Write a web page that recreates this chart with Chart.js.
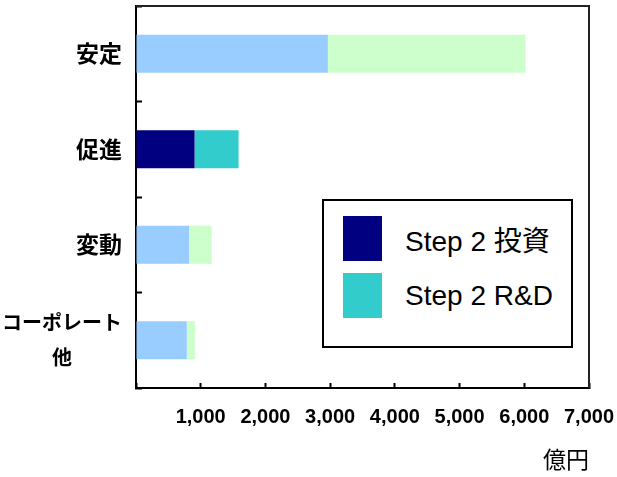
<!DOCTYPE html>
<html lang="ja">
<head>
<meta charset="UTF-8">
<title>Step 2</title>
<style>
  body { margin: 0; background: #fff; }
  .wrap { position: relative; width: 617px; height: 477px; }
  #legendBox {
    position: absolute; left: 322px; top: 199px; width: 247px; height: 145px;
    border: 2px solid #000; background: #fff;
    font-family: "Liberation Sans", Arial, "Noto Sans CJK JP", sans-serif; font-size: 28px; color: #000;
  }
  .item { position: absolute; left: 19px; height: 45px; display: flex; align-items: center; white-space: nowrap; }
  .item span.sw { width: 39px; height: 45px; margin-right: 23px; }
</style>
</head>
<body>
<div class="wrap">
  <canvas id="c" width="617" height="477"></canvas>
  <div id="legendBox">
    <div class="item" style="top:15px"><span class="sw" style="background:#000080"></span>Step 2 投資</div>
    <div class="item" style="top:72px"><span class="sw" style="background:#33CCCC"></span>Step 2 R&amp;D</div>
  </div>
</div>

<script src="https://cdn.jsdelivr.net/npm/chart.js"></script>
<script>
// 数値 (億円)
const categories = ['安定', '促進', '変動', 'コーポレート他'];
const investValues = [2965, 905, 820, 785];   // Step 2 投資
const rdValues = [3055, 680, 350, 125];        // Step 2 R&D
const xTicks = [1000, 2000, 3000, 4000, 5000, 6000, 7000];

// 促進だけ濃い色
const investColors = ['#99CCFF', '#000080', '#99CCFF', '#99CCFF'];
const rdColors = ['#CCFFCC', '#33CCCC', '#CCFFCC', '#CCFFCC'];

// 枠線 (上・右)
const frame = {
  id: 'frame',
  afterDraw(chart) {
    const a = chart.chartArea, ctx = chart.ctx;
    ctx.save();
    ctx.strokeStyle = '#222';
    ctx.lineWidth = 2;
    ctx.beginPath();
    ctx.moveTo(a.left, a.top);
    ctx.lineTo(a.right, a.top);
    ctx.lineTo(a.right, a.bottom);
    ctx.stroke();
    ctx.restore();
  }
};

new Chart(document.getElementById('c'), {
  type: 'bar',
  data: {
    labels: categories,
    datasets: [
      { label: 'Step 2 投資', data: investValues, backgroundColor: investColors },
      { label: 'Step 2 R&D', data: rdValues, backgroundColor: rdColors }
    ]
  },
  options: {
    indexAxis: 'y',
    responsive: false,
    animation: false,
    layout: { padding: { left: 0, right: 28, top: 6, bottom: 4 } },
    datasets: { bar: { barPercentage: 0.4, categoryPercentage: 1 } },
    plugins: { legend: { display: false }, tooltip: { enabled: false } },
    scales: {
      x: {
        stacked: true, min: 0, max: 7000,
        afterBuildTicks(s) { s.ticks = [0].concat(xTicks).map(v => ({ value: v })); },
        afterFit(s) { s.height = 477 - 388 - 4; s.paddingLeft = 0; s.paddingRight = 0; },
        grid: { drawOnChartArea: false, tickLength: -5, tickWidth: 2, tickColor: '#000' },
        border: { color: '#000', width: 2 },
        ticks: {
          padding: 22, color: '#000',
          font: { family: '"Liberation Sans Narrow", "Arial Narrow", Arial', size: 20, weight: 'bold' },
          callback: v => v === 0 ? '' : v.toLocaleString('en-US')
        },
        title: {
          display: true, text: '億円', align: 'end', color: '#000',
          font: { family: '"Noto Sans CJK JP", sans-serif', size: 23 },
          padding: { top: 0, bottom: 0 }
        }
      },
      y: {
        stacked: true,
        afterFit(s) { s.width = 136; s.paddingTop = 0; s.paddingBottom = 0; },
        grid: { drawOnChartArea: false, offset: true, tickLength: -6, tickWidth: 2, tickColor: '#000' },
        border: { color: '#000', width: 2 },
        ticks: {
          padding: 20, color: '#000',
          font: ctx => ({ family: '"Noto Sans CJK JP", sans-serif', size: ctx.index === 3 ? 20 : 23, weight: 'bold', lineHeight: ctx.index === 3 ? 1.75 : 1.2 }),
          callback: (v, i) => i === 3 ? ['コーポレート', '他\u3000\u3000\u2002'] : categories[i]
        }
      }
    }
  },
  plugins: [frame]
});
</script>
</body>
</html>
